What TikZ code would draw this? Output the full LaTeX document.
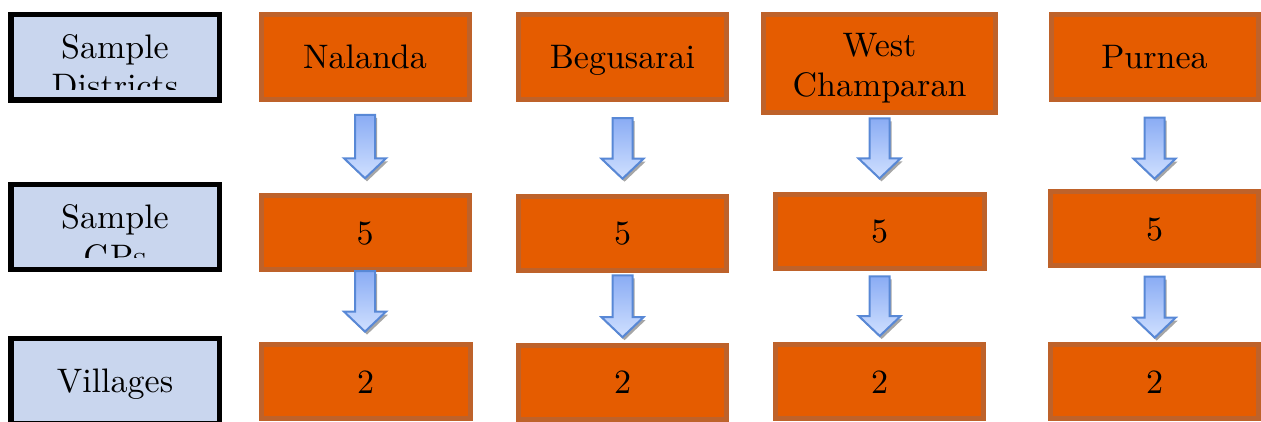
\documentclass[tikz,border=0pt]{standalone}
\usepackage{fontspec}
\setmainfont{lmroman10-regular}[Extension=.otf]
\usetikzlibrary{calc,shadows}

\definecolor{rowblue}{RGB}{201,214,238}
\definecolor{boxorange}{RGB}{229,92,0}
\definecolor{boxedge}{RGB}{190,98,42}
\definecolor{arrowedge}{RGB}{88,136,214}
\definecolor{arrowtop}{RGB}{138,172,244}
\definecolor{arrowbot}{RGB}{208,224,255}

\newcommand\diagfont{\fontsize{34}{40}\selectfont}

\tikzset{
  every node/.style={font=\diagfont},
  labelbox/.style={rectangle, draw=black, line width=5.5pt, fill=rowblue,
    minimum width=208.5pt, minimum height=85pt, inner sep=0pt,
    text height=23pt, text depth=0pt},
  databox/.style={rectangle, draw=boxedge, line width=5pt, fill=boxorange,
    minimum width=208pt, minimum height=74pt, inner sep=0pt,
    text height=23pt, text depth=0pt},
  boxtext/.style={anchor=base, inner sep=0pt},
  arrowbody/.style={draw=arrowedge, line width=2pt, line join=miter,
    top color=arrowtop, bottom color=arrowbot,
    drop shadow={shadow xshift=2pt, shadow yshift=-3pt, fill=black!50, opacity=0.7}},
}

% block arrow from the bottom of #1 to the top of #2;
% #3 = gap below #1, #4 = gap above #2
\newcommand\flowarrow[4]{%
  \draw[arrowbody] let \p1=($(#1.south)+(0,#3)$), \p2=($(#2.north)+(0,-#4)$) in
    (\x1-10pt,\y1) -- (\x1+10pt,\y1) -- (\x1+10pt,\y2+20pt) -- (\x1+21pt,\y2+20pt)
    -- (\x1,\y2) -- (\x1-21pt,\y2+20pt) -- (\x1-10pt,\y2+20pt) -- cycle;}

\begin{document}
\begin{tikzpicture}[x=1pt,y=-1pt]
\useasboundingbox (0,0) rectangle (1261,422);

% row labels
\node[labelbox, minimum height=85.5pt] (l1) at (115,57.5) {};
\begin{scope}
  \clip (l1.north west) rectangle ($(l1.south east)+(0,-13)$);
  \node[boxtext] (l1a) at ($(l1.north)+(0,47)$) {Sample};
  \node[boxtext] (l1b) at ($(l1.north)+(0,86)$) {Districts};
\end{scope}

\node[labelbox, minimum height=84.5pt] (l2) at (115,227) {};
\begin{scope}
  \clip (l2.north west) rectangle ($(l2.south east)+(0,-15)$);
  \node[boxtext] (l2a) at ($(l2.north)+(0,46.3)$) {Sample};
  \node[boxtext] (l2b) at ($(l2.north)+(0,86)$) {GPs};
\end{scope}

\node[labelbox] (l3) at (115,381) {Villages};

% districts
\node[databox, minimum height=85.5pt] (d1) at (365,57.25) {Nalanda};
\node[databox, minimum height=85.5pt] (d2) at (622.5,57.25) {Begusarai};
\node[databox, minimum width=232.6pt, minimum height=98.3pt] (d3) at (879.5,63.4) {};
\node[boxtext] (d3a) at ($(d3.north)+(0,45)$) {West};
\node[boxtext] (d3b) at ($(d3.north)+(0,85)$) {Champaran};
\node[databox, minimum width=207pt, minimum height=85pt] (d4) at (1154.5,57) {Purnea};

% gram panchayats
\node[databox] (g1) at (365,232.8) {5};
\node[databox] (g2) at (622.5,233.2) {5};
\node[databox, minimum width=209pt] (g3) at (879.7,231.5) {5};
\node[databox] (g4) at (1154.7,228.8) {5};

% villages
\node[databox, minimum width=209pt] (v1) at (365.5,381.8) {2};
\node[databox] (v2) at (622.5,382) {2};
\node[databox] (v3) at (879.5,381.5) {2};
\node[databox] (v4) at (1154.7,381.8) {2};

% connectors
\flowarrow{d1}{g1}{12.5}{15}
\flowarrow{d2}{g2}{15.6}{15}
\flowarrow{d3}{g3}{3.3}{13.6}
\flowarrow{d4}{g4}{15.7}{10.6}
\flowarrow{g1}{v1}{-1.3}{10.7}
\flowarrow{g2}{v2}{2.7}{5.3}
\flowarrow{g3}{v3}{5.3}{6}
\flowarrow{g4}{v4}{8.4}{4.7}
\end{tikzpicture}
\end{document}
